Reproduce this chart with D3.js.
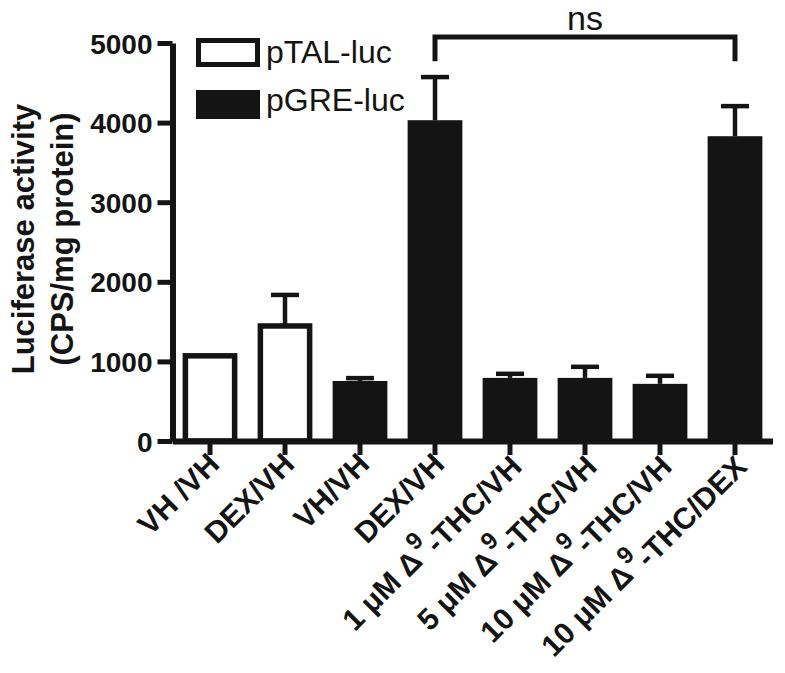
<!DOCTYPE html>
<html>
<head>
<meta charset="utf-8">
<script src="https://cdn.jsdelivr.net/npm/d3@7/dist/d3.min.js"></script>
<style>
  body { margin: 0; background: #fff; }
  svg { display: block; }
</style>
</head>
<body>
<div id="chart"></div>
<script>
// data
var categories = ["VH /VH", "DEX/VH", "VH/VH", "DEX/VH",
    "1 μM Δ^9-THC/VH", "5 μM Δ^9-THC/VH", "10 μM Δ^9-THC/VH", "10 μM Δ^9-THC/DEX"];
var seriesOf = ["pTAL-luc", "pTAL-luc", "pGRE-luc", "pGRE-luc",
    "pGRE-luc", "pGRE-luc", "pGRE-luc", "pGRE-luc"];
var values = [1070, 1445, 754, 4030, 793, 793, 718, 3829];
var errors = [0, 390, 36, 542, 51, 139, 101, 378];
var yTicks = [0, 1000, 2000, 3000, 4000, 5000];
var legendNames = ["pTAL-luc", "pGRE-luc"];
var compare = [3, 7]; // ns bracket between these bars

var ink = "#141414";
var font = "Arial, 'Liberation Sans', sans-serif";
var width = 785, height = 673;

var svg = d3.select("#chart").append("svg")
    .attr("width", width)
    .attr("height", height);

var x = d3.scaleBand()
    .domain(d3.range(categories.length))
    .range([172.5, 772.5])
    .paddingInner(0.27)
    .paddingOuter(0.135);

var y = d3.scaleLinear()
    .domain([0, 5000])
    .range([441, 43]);

var fillFor = function (s) { return s == "pTAL-luc" ? "#fff" : ink; };

//bars
var bars = svg.append("g");
bars.selectAll("rect")
    .data(values)
    .enter().append("rect")
    .attr("x", function (d, i) { return seriesOf[i] == "pTAL-luc" ? x(i) + 2.75 : x(i); })
    .attr("width", function (d, i) { return seriesOf[i] == "pTAL-luc" ? x.bandwidth() - 5.5 : x.bandwidth(); })
    .attr("y", function (d, i) { return y(d); })
    .attr("height", function (d) { return y(0) - y(d); })
    .attr("fill", function (d, i) { return fillFor(seriesOf[i]); })
    .attr("stroke", function (d, i) { return seriesOf[i] == "pTAL-luc" ? ink : "none"; })
    .attr("stroke-width", 5.5);

//error bars, upper only
var errG = svg.append("g")
    .attr("stroke", ink)
    .attr("stroke-width", 4.5)
    .attr("fill", "none");
values.forEach(function (v, i) {
    if (errors[i] <= 0) return;
    var cx = x(i) + x.bandwidth() / 2;
    errG.append("line")
        .attr("x1", cx).attr("x2", cx)
        .attr("y1", y(v)).attr("y2", y(v + errors[i]));
    errG.append("line")
        .attr("x1", cx - 14).attr("x2", cx + 14)
        .attr("y1", y(v + errors[i])).attr("y2", y(v + errors[i]));
});

//axes
var yAxis = svg.append("g")
    .attr("transform", "translate(172.5,0)")
    .call(d3.axisLeft(y).tickValues(yTicks).tickFormat(d3.format("d"))
        .tickSize(15).tickSizeOuter(0).tickPadding(5));
yAxis.select(".domain").attr("stroke", ink).attr("stroke-width", 6);
yAxis.selectAll(".tick line").attr("stroke", ink).attr("stroke-width", 5);
yAxis.selectAll(".tick text")
    .attr("fill", ink)
    .attr("font-family", font)
    .attr("font-weight", "bold")
    .attr("font-size", "28px")
    .attr("dy", "0.36em");

var xAxis = svg.append("g")
    .attr("transform", "translate(0," + y(0) + ")")
    .call(d3.axisBottom(x).tickSize(14).tickSizeOuter(0).tickFormat(""));
xAxis.select(".domain").attr("stroke", ink).attr("stroke-width", 6);
xAxis.selectAll(".tick line").attr("stroke", ink).attr("stroke-width", 5);

//x labels, rotated with superscript 9
var labels = svg.append("g")
    .attr("font-family", font)
    .attr("font-weight", "bold")
    .attr("font-size", "30px")
    .attr("fill", ink);
categories.forEach(function (c, i) {
    var cx = x(i) + x.bandwidth() / 2;
    var t = labels.append("text")
        .attr("text-anchor", "end")
        .attr("transform", "translate(" + (cx + 11) + ",466) rotate(-45)");
    var parts = c.split("^");
    if (parts.length == 1) {
        t.text(c);
    } else {
        t.append("tspan").text(parts[0]);
        t.append("tspan").attr("dx", "2").attr("dy", "-0.6em").attr("font-size", "24px").text(parts[1].charAt(0));
        t.append("tspan").attr("dy", "0.6em").text(parts[1].slice(1));
    }
});

//y title
svg.append("text")
    .attr("transform", "translate(34,239) rotate(-90)")
    .attr("text-anchor", "middle")
    .attr("font-family", font)
    .attr("font-weight", "bold")
    .attr("font-size", "31px")
    .attr("fill", ink)
    .selectAll("tspan")
    .data(["Luciferase activity", "(CPS/mg protein)"])
    .enter().append("tspan")
    .attr("x", 0)
    .attr("dy", function (d, i) { return i ? "1.25em" : 0; })
    .text(function (d) { return d; });

//legend
var legend = svg.append("g")
    .attr("font-family", font)
    .attr("font-size", "32px")
    .attr("fill", ink);
legendNames.forEach(function (name, i) {
    legend.append("rect")
        .attr("x", 198.5)
        .attr("y", 40.5 + i * 52)
        .attr("width", 59)
        .attr("height", 24)
        .attr("fill", fillFor(name))
        .attr("stroke", ink)
        .attr("stroke-width", 5);
    legend.append("text")
        .attr("x", 266)
        .attr("y", 63 + i * 48)
        .text(name);
});

//ns bracket
var bx1 = x(compare[0]) + x.bandwidth() / 2;
var bx2 = x(compare[1]) + x.bandwidth() / 2;
var by = y(5075), byLeg = y(4770);
svg.append("path")
    .attr("d", "M" + bx1 + "," + byLeg + "V" + by + "H" + bx2 + "V" + byLeg)
    .attr("fill", "none")
    .attr("stroke", ink)
    .attr("stroke-width", 5);
svg.append("text")
    .attr("x", (bx1 + bx2) / 2)
    .attr("y", 30)
    .attr("text-anchor", "middle")
    .attr("font-family", font)
    .attr("font-size", "34px")
    .attr("fill", ink)
    .text("ns");
</script>
</body>
</html>
